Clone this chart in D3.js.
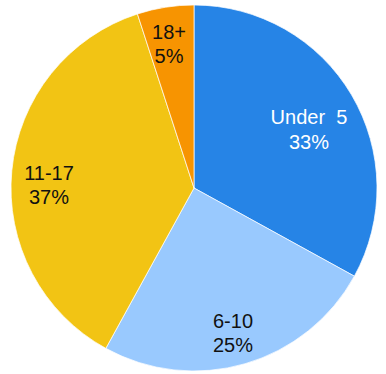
<!DOCTYPE html>
<html>
<head>
<meta charset="utf-8">
<script src="https://cdn.jsdelivr.net/npm/d3@7"></script>
<style>
  html, body { margin: 0; padding: 0; background: #fff; }
  svg { display: block; }
  text { font-family: Arial, "Liberation Sans", sans-serif; white-space: pre; }
</style>
</head>
<body>
<div id="chart"></div>
<script>
// Age groups and their share of the total (percent)
const categories = ["Under  5", "6-10", "11-17", "18+"];
const values = [33, 25, 37, 5];
const colors = ["#2684E6", "#99C9FE", "#F2C414", "#F79401"];
const labelColors = ["#ffffff", "#111111", "#111111", "#111111"];

const width = 386, height = 374;
const cx = 194, cy = 188, radius = 183;

// Label placement inside each slice: radius fraction and angular nudge (degrees)
const labelPlace = [
  { r: 0.705, nudge: 3.6 },
  { r: 0.821, nudge: 1.15 },
  { r: 0.7925, nudge: -4.2 },
  { r: 0.799, nudge: -0.85 }
];

const data = categories.map((c, i) => ({ name: c, value: values[i], i }));

const svg = d3.select("#chart").append("svg")
  .attr("width", width).attr("height", height);

const g = svg.append("g").attr("transform", `translate(${cx},${cy})`);

const pie = d3.pie().value(d => d.value).sort(null);
const arc = d3.arc().innerRadius(0).outerRadius(radius);
const arcs = pie(data);

g.selectAll("path.slice").data(arcs).join("path")
  .attr("class", "slice")
  .attr("d", arc)
  .attr("fill", d => colors[d.data.i])
  .attr("stroke", "#ffffff")
  .attr("stroke-width", 0.7);

const fontSize = 20;

const labels = g.selectAll("text.label").data(arcs).join("text")
  .attr("class", "label")
  .attr("text-anchor", "middle")
  .attr("font-size", fontSize)
  .attr("fill", d => labelColors[d.data.i])
  .attr("transform", d => {
    const p = labelPlace[d.data.i];
    const a = (d.startAngle + d.endAngle) / 2 + p.nudge * Math.PI / 180;
    const rr = radius * p.r;
    return `translate(${rr * Math.sin(a)},${-rr * Math.cos(a)})`;
  });

labels.append("tspan")
  .attr("x", 0).attr("y", -5.25)
  .text(d => d.data.name);
labels.append("tspan")
  .attr("x", 0).attr("y", 19.25)
  .text(d => d.data.value + "%");
</script>
</body>
</html>
